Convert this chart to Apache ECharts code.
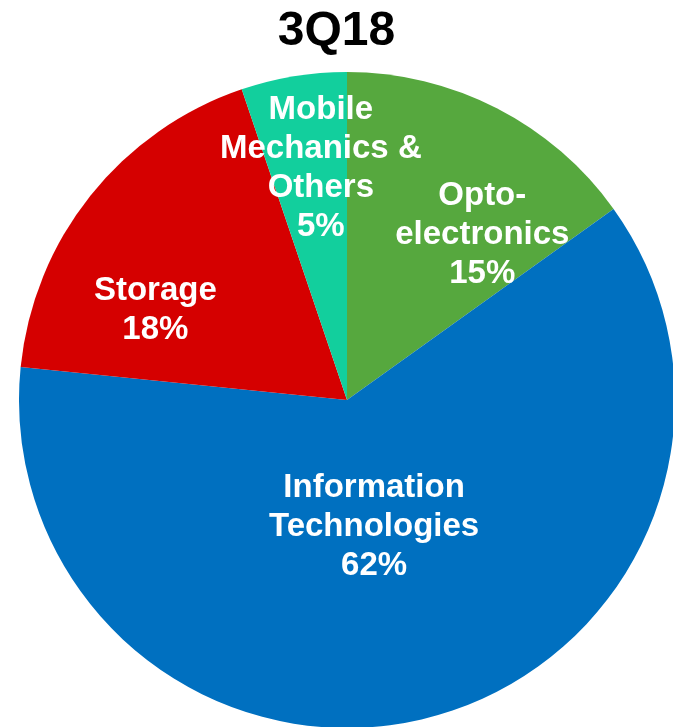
<!DOCTYPE html>
<html>
<head>
<meta charset="utf-8">
<script src="https://cdn.jsdelivr.net/npm/echarts@6/dist/echarts.min.js"></script>
<style>html,body{margin:0;padding:0;background:#fff;}#c{width:673px;height:727px;}</style>
</head>
<body>
<div id="c"></div>
<script>
var title = '3Q18';
var categories = ['Opto-\nelectronics', 'Information\nTechnologies', 'Storage', 'Mobile\nMechanics &\nOthers'];
var values = [15.1, 61.5, 18.2, 5.2];
var colors = ['#56A83E', '#0070C0', '#D50000', '#12CF9D'];
var labelShift = [[59, -17], [-16, -34], [-61, 14], [1, -67]];

var chart = echarts.init(document.getElementById('c'));
chart.setOption({
  animation: false,
  title: {
    text: title,
    left: 'center',
    top: 3,
    textStyle: { fontFamily: 'Liberation Sans', fontWeight: 'bold', fontSize: 48, color: '#000' }
  },
  series: [{
    type: 'pie',
    center: [347, 400],
    radius: 328,
    startAngle: 90,
    clockwise: true,
    percentPrecision: 0,
    avoidLabelOverlap: false,
    itemStyle: { borderWidth: 0 },
    label: {
      show: true,
      position: 'inside',
      formatter: '{b}\n{d}%',
      color: '#fff',
      fontFamily: 'Liberation Sans',
      fontWeight: 'bold',
      fontSize: 33,
      lineHeight: 39,
      align: 'center'
    },
    labelLayout: function (p) {
      var s = labelShift[p.dataIndex];
      return { dx: s[0], dy: s[1] };
    },
    emphasis: { disabled: true },
    data: categories.map(function (c, i) {
      return { name: c, value: values[i], itemStyle: { color: colors[i] } };
    })
  }]
});
</script>
</body>
</html>
